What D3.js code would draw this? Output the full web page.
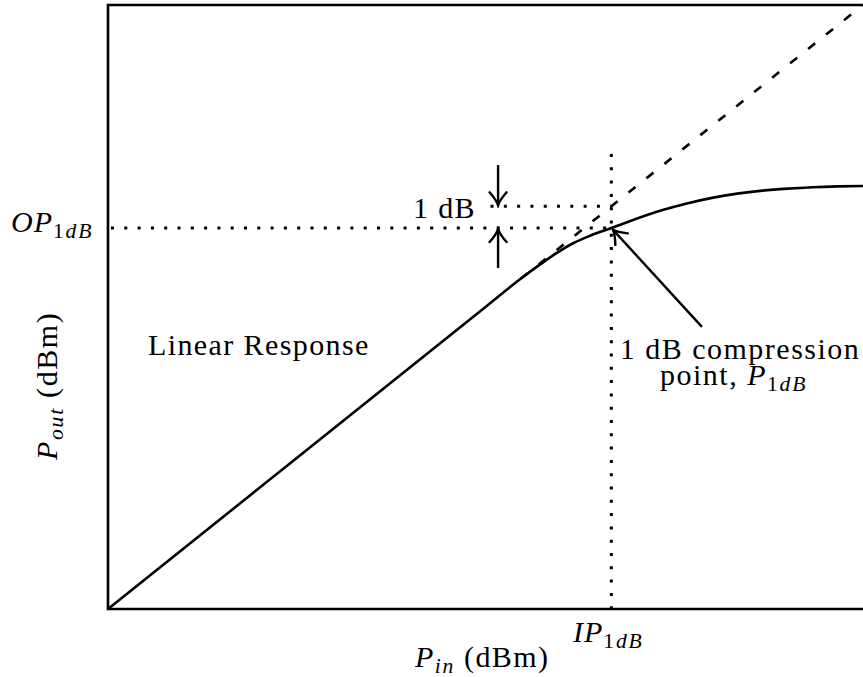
<!DOCTYPE html>
<html>
<head>
<meta charset="utf-8">
<script src="https://cdn.jsdelivr.net/npm/d3@7"></script>
<style>
  body { margin: 0; background: #fff; }
  text { font-family: "Liberation Serif", "Times New Roman", serif; fill: #000; }
</style>
</head>
<body>
<script>
// P_in (dBm) -> P_out (dBm) of the amplifier
const pinCurve  = [-25, -10, -8.5, -7.8, -7.2, -6.5, -5.8, -5, -4.4, -3, -2, -1, 0, 1, 2, 3, 4, 5];
const poutCurve = [-15, 0, 1.5, 2.14, 2.66, 3.18, 3.56, 3.92, 4.2, 4.8, 5.14, 5.42, 5.63, 5.78, 5.88, 5.95, 5.99, 6.01];

// ideal linear response (extrapolated, dashed)
const pinDashed  = [-8.6, 5];
const poutDashed = [1.4, 15];

// compression point
const ip1dB = -5;
const op1dB = 3.92;
const opLinear = 5;

const width = 863, height = 677;

const x = d3.scaleLinear().domain([-25, 5]).range([108, 863]);
const y = d3.scaleLinear().domain([-15, 15]).range([609, 5]);

const svg = d3.select("body").append("svg")
  .attr("width", width)
  .attr("height", height);

// arrow head
svg.append("defs").append("marker")
  .attr("id", "head")
  .attr("markerUnits", "userSpaceOnUse")
  .attr("viewBox", "-16 -11 19 22")
  .attr("refX", 0).attr("refY", 0)
  .attr("markerWidth", 19).attr("markerHeight", 22)
  .attr("orient", "auto")
  .append("path")
  .attr("d", "M-13,-8.5 Q-5,-1.5 0,0 Q-5,1.5 -13,8.5")
  .attr("fill", "none")
  .attr("stroke", "#000")
  .attr("stroke-width", 2.4)
  .attr("stroke-linecap", "round");

// frame (right side runs off the page)
svg.append("path")
  .attr("d", `M${x(5) + 5},${y(15)} H${x(-25)} V${y(-15)} H${x(5) + 5}`)
  .attr("fill", "none")
  .attr("stroke", "#000")
  .attr("stroke-width", 2.6);

// dotted guides
const dotted = (p) => svg.append("path")
  .attr("d", p)
  .attr("fill", "none")
  .attr("stroke", "#000")
  .attr("stroke-width", 3)
  .attr("stroke-dasharray", "3,10.3");

dotted(`M${x(-25) + 3},${y(op1dB)} H${x(ip1dB)}`);
dotted(`M${x(-9.8)},${y(opLinear)} H${x(ip1dB)}`);
dotted(`M${x(ip1dB)},${y(7.6)} V${y(-15)}`);

// dashed extrapolation
svg.append("path")
  .datum(d3.zip(pinDashed, poutDashed))
  .attr("d", d3.line().x(d => x(d[0])).y(d => y(d[1])))
  .attr("fill", "none")
  .attr("stroke", "#000")
  .attr("stroke-width", 2.6)
  .attr("stroke-dasharray", "9,14");

// actual response
svg.append("path")
  .datum(d3.zip(pinCurve, poutCurve))
  .attr("d", d3.line().curve(d3.curveMonotoneX).x(d => x(d[0])).y(d => y(d[1])))
  .attr("fill", "none")
  .attr("stroke", "#000")
  .attr("stroke-width", 2.6);

// 1 dB arrows
const arrow = (x1, y1, x2, y2) => svg.append("line")
  .attr("x1", x1).attr("y1", y1).attr("x2", x2).attr("y2", y2)
  .attr("stroke", "#000")
  .attr("stroke-width", 2.4)
  .attr("marker-end", "url(#head)");

arrow(x(-9.5), y(7.05), x(-9.5), y(opLinear) - 1);
arrow(x(-9.5), y(1.94), x(-9.5), y(op1dB) + 1);
arrow(x(-1.4), y(-0.99), x(ip1dB) + 1.5, y(op1dB) + 1.5);

// text helpers
const fs = 30;
function mathLabel(t, parts) {
  parts.forEach(p => {
    const s = t.append("tspan").text(p.t);
    if (p.i) s.attr("font-style", "italic");
    if (p.sub) s.attr("font-size", fs * 0.72).attr("letter-spacing", 1.8);
    if (p.x != null) s.attr("x", p.x);
    if (p.dy) s.attr("dy", p.dy);
  });
  return t;
}

// OP1dB
mathLabel(svg.append("text").attr("x", 11).attr("y", y(op1dB) + 4).attr("font-size", fs).attr("letter-spacing", 1), [
  { t: "OP", i: true },
  { t: "1", sub: true, dy: 6 },
  { t: "dB", sub: true, i: true }
]);

// IP1dB
mathLabel(svg.append("text").attr("x", 573).attr("y", 642).attr("font-size", fs).attr("letter-spacing", 1), [
  { t: "IP", i: true },
  { t: "1", sub: true, dy: 6 },
  { t: "dB", sub: true, i: true }
]);

// x axis title
mathLabel(svg.append("text").attr("x", 415).attr("y", 667).attr("font-size", fs).attr("letter-spacing", 1.4), [
  { t: "P", i: true },
  { t: "in", sub: true, i: true, dy: 6 },
  { t: " (dBm)", dy: -6 }
]);

// y axis title
mathLabel(svg.append("text")
  .attr("transform", "translate(57,460) rotate(-90)")
  .attr("font-size", fs).attr("letter-spacing", 1.6), [
  { t: "P", i: true },
  { t: "out", sub: true, i: true, dy: 6 },
  { t: " (dBm)", dy: -6 }
]);

// annotations
svg.append("text")
  .attr("x", 148).attr("y", 355)
  .attr("font-size", fs).attr("letter-spacing", 1.4)
  .text("Linear Response");

svg.append("text")
  .attr("x", 476).attr("y", 218)
  .attr("text-anchor", "end")
  .attr("font-size", fs).attr("letter-spacing", 1.4)
  .text("1 dB");

// two-line note, one text element
const note = svg.append("text")
  .attr("x", 740).attr("y", 359)
  .attr("font-size", fs).attr("letter-spacing", 1.5);
note.append("tspan").attr("text-anchor", "middle").text("1 dB compression");
mathLabel(note, [
  { t: "point, ", x: 660, dy: 26 },
  { t: "P", i: true },
  { t: "1", sub: true, dy: 6 },
  { t: "dB", sub: true, i: true }
]);
</script>
</body>
</html>
